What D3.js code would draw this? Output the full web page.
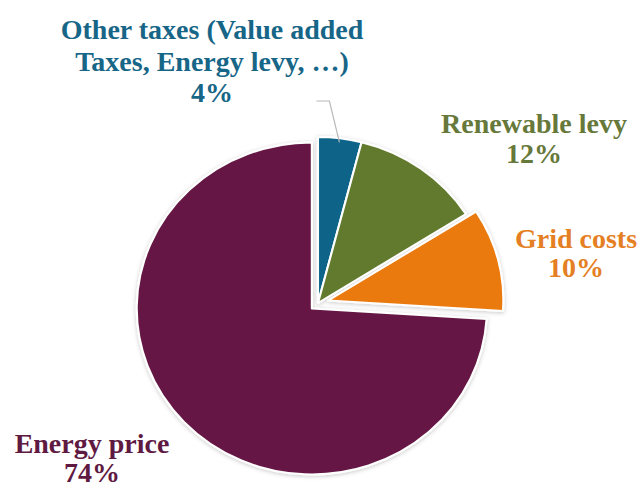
<!DOCTYPE html>
<html lang="en">
<head>
    <meta charset="UTF-8">
    <title>Electricity price breakdown</title>
    <script src="https://cdnjs.cloudflare.com/ajax/libs/d3/7.8.5/d3.min.js"></script>
    <style>
        html, body { margin: 0; padding: 0; background: #fff; }
        #wrapper { width: 641px; height: 487px; }
        .lbl { font-family: 'Liberation Serif', Tinos, 'Times New Roman', 'DejaVu Serif', serif; font-weight: 700; font-size: 28px; }
    </style>
</head>
<body>
    <div id="wrapper"></div>
    <script>
        // data
        const categories = ['Other taxes', 'Renewable levy', 'Grid costs', 'Energy price']
        const shares = [4, 12, 10, 74]
        const labelLines = [
            ['Other taxes (Value added', 'Taxes, Energy levy, \u2026)', '4%'],
            ['Renewable levy', '12%'],
            ['Grid costs', '10%'],
            ['Energy price', '74%']
        ]

        // styles / layout
        const sliceColors = ['#0b6488', '#627a2d', '#ea7a10', '#651944']
        const textColors = ['#176687', '#66783a', '#e57f24', '#5f1a42']
        const explode = [0, 0, 10, 8]
        const labelPos = [[212, 39], [534, 133], [576, 248], [92, 453]]
        const lineGap = [31.5, 30, 29, 28.5]

        const dimensions = {
            width: 641,
            height: 487,
            cx: 318,
            cy: 303,
            radius: 166,
            stretchX: 1.055
        }

        const svg = d3.select('#wrapper')
            .append('svg')
                .attr('width', dimensions.width)
                .attr('height', dimensions.height)

        const defs = svg.append('defs')
        defs.append('filter')
                .attr('id', 'shadow')
                .attr('x', '-10%').attr('y', '-10%')
                .attr('width', '120%').attr('height', '120%')
            .append('feDropShadow')
                .attr('dx', 0)
                .attr('dy', 1)
                .attr('stdDeviation', 2)
                .attr('flood-color', '#000')
                .attr('flood-opacity', 0.22)

        const pie = d3.pie()
            .sort(null)
            .value(d => d)

        const arcs = pie(shares)

        const arc = d3.arc()
            .innerRadius(0)
            .outerRadius(dimensions.radius)

        const pieGroup = svg.append('g')
            .attr('transform', `translate(${dimensions.cx},${dimensions.cy}) scale(${dimensions.stretchX},1)`)
            .attr('filter', 'url(#shadow)')

        pieGroup.selectAll('path')
            .data(arcs)
            .enter().append('path')
                .attr('d', arc)
                .attr('transform', (d, i) => {
                    const mid = (d.startAngle + d.endAngle) / 2
                    return `translate(${Math.sin(mid) * explode[i]},${-Math.cos(mid) * explode[i]})`
                })
                .attr('fill', (d, i) => sliceColors[i])
                .attr('stroke', '#fff')
                .attr('stroke-width', 2)
                .attr('stroke-linejoin', 'round')

        // leader line for the small slice
        const blue = arcs[0]
        const blueMid = (blue.startAngle + blue.endAngle) / 2
        const edgeX = dimensions.cx + Math.sin(blueMid) * (dimensions.radius - 4) * dimensions.stretchX
        const edgeY = dimensions.cy - Math.cos(blueMid) * (dimensions.radius - 4)
        svg.append('path')
            .attr('d', `M${edgeX},${edgeY} L${edgeX - 10},${101} L${edgeX - 23},${101}`)
            .attr('fill', 'none')
            .attr('stroke', '#b8b8b8')
            .attr('stroke-width', 1.2)

        // labels
        const labels = svg.append('g')
            .style('text-anchor', 'middle')

        labelLines.forEach((lines, i) => {
            const t = labels.append('text')
                .attr('class', 'lbl')
                .attr('x', labelPos[i][0])
                .attr('y', labelPos[i][1])
                .attr('fill', textColors[i])
            lines.forEach((line, j) => {
                t.append('tspan')
                    .attr('x', labelPos[i][0])
                    .attr('dy', j === 0 ? 0 : lineGap[i])
                    .text(line)
            })
        })
    </script>
</body>
</html>
